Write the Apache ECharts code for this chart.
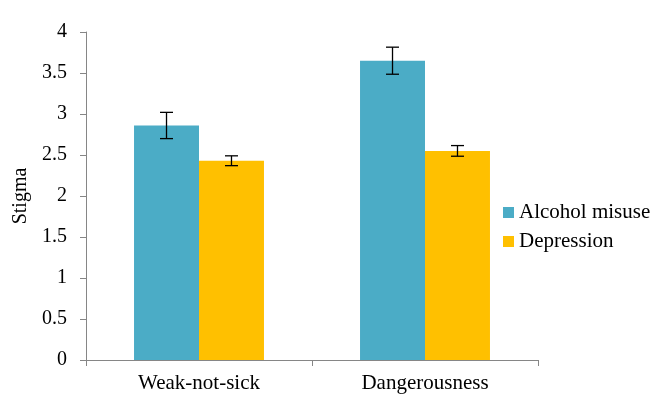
<!DOCTYPE html>
<html><head><meta charset="utf-8">
<script src="https://cdn.jsdelivr.net/npm/echarts@6/dist/echarts.min.js"></script>
<style>html,body{margin:0;padding:0;background:#fff}#c{width:655px;height:394px}</style>
</head><body><div id="c"></div>
<script>
const categories = ['Weak-not-sick', 'Dangerousness'];
const seriesNames = ['Alcohol misuse', 'Depression'];
const alcohol = [2.86, 3.65];
const alcoholErr = [0.16, 0.165];
const depression = [2.43, 2.55];
const depressionErr = [0.06, 0.065];
const yTicks = [0, 0.5, 1, 1.5, 2, 2.5, 3, 3.5, 4];

const colors = ['#4BACC6', '#FFC000'];
const gapRatio = 0.425;
const font = 'Liberation Serif, Times New Roman, serif';

function errSeries(vals, errs, side) {
  return {
    type: 'custom',
    z: 10,
    data: vals.map((v, i) => [i, v, errs[i]]),
    renderItem: function (params, api) {
      const i = api.value(0), v = api.value(1), e = api.value(2);
      const cw = api.size([1, 0])[0];
      const bw = cw * (1 - gapRatio) / 2;
      const c = api.coord([i, v]);
      const x = c[0] + side * bw / 2;
      const yt = api.coord([i, v + e])[1];
      const yb = api.coord([i, v - e])[1];
      const h = 6.5;
      const st = { stroke: '#000', lineWidth: 1.3 };
      return { type: 'group', children: [
        { type: 'line', shape: { x1: x, y1: yt, x2: x, y2: yb }, style: st },
        { type: 'line', shape: { x1: x - h, y1: yt, x2: x + h, y2: yt }, style: st },
        { type: 'line', shape: { x1: x - h, y1: yb, x2: x + h, y2: yb }, style: st }
      ]};
    }
  };
}

const chart = echarts.init(document.getElementById('c'));
chart.setOption({
  animation: false,
  backgroundColor: '#fff',
  grid: { left: 86, right: 117, top: 32, bottom: 34 },
  legend: {
    orient: 'vertical', left: 498, top: 197,
    itemWidth: 11, itemHeight: 11, itemGap: 8,
    icon: 'rect',
    textStyle: { fontFamily: font, fontSize: 21, color: '#000' },
    data: seriesNames
  },
  xAxis: {
    type: 'category', data: categories,
    axisLine: { lineStyle: { color: '#868686' } },
    axisTick: { show: true, length: 6, lineStyle: { color: '#868686' } },
    axisLabel: { fontFamily: font, fontSize: 21, color: '#000', margin: 13 }
  },
  yAxis: {
    type: 'value', min: 0, max: 4, interval: 0.5,
    name: 'Stigma', nameLocation: 'middle', nameGap: 52,
    nameTextStyle: { fontFamily: font, fontSize: 20, color: '#000' },
    axisLine: { show: true, lineStyle: { color: '#868686' } },
    axisTick: { show: true, length: 6, lineStyle: { color: '#868686' } },
    splitLine: { show: false },
    axisLabel: { fontFamily: font, fontSize: 20, color: '#000', margin: 19,
      formatter: v => String(yTicks.find(t => Math.abs(t - v) < 1e-9) ?? v) }
  },
  series: [
    { name: seriesNames[0], type: 'bar', data: alcohol, itemStyle: { color: colors[0] },
      barGap: '0%', barCategoryGap: (gapRatio * 100) + '%' },
    { name: seriesNames[1], type: 'bar', data: depression, itemStyle: { color: colors[1] },
      barGap: '0%', barCategoryGap: (gapRatio * 100) + '%' },
    errSeries(alcohol, alcoholErr, -1),
    errSeries(depression, depressionErr, 1)
  ]
});
</script></body></html>
